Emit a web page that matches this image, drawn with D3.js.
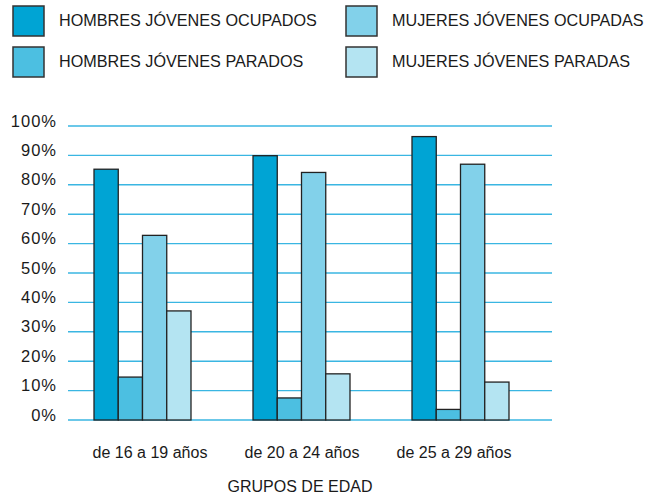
<!DOCTYPE html>
<html>
<head>
<meta charset="utf-8">
<script src="https://cdn.jsdelivr.net/npm/d3@7"></script>
<style>
  body { margin: 0; background: #fff; }
  text { font-family: "Liberation Sans", Arial, sans-serif; fill: #1a1a1a; }
</style>
</head>
<body>
<svg id="chart" width="660" height="496"></svg>
<script>
// age groups
const groups = ['de 16 a 19 años', 'de 20 a 24 años', 'de 25 a 29 años'];
// series, in bar order
const seriesNames = [
  'HOMBRES JÓVENES OCUPADOS',
  'HOMBRES JÓVENES PARADOS',
  'MUJERES JÓVENES OCUPADAS',
  'MUJERES JÓVENES PARADAS'
];
const hombresOcupados = [85.3, 89.9, 96.4];
const hombresParados = [14.6, 7.5, 3.6];
const mujeresOcupadas = [62.8, 84.2, 87.0];
const mujeresParadas = [37.1, 15.7, 12.9];
const yTicks = [0, 10, 20, 30, 40, 50, 60, 70, 80, 90, 100];

const colors = ['#00a4d4', '#4cbfe1', '#82d1ea', '#b4e4f2'];
const allSeries = [hombresOcupados, hombresParados, mujeresOcupadas, mujeresParadas];

const svg = d3.select('#chart');

// scales
const y = d3.scaleLinear().domain([0, 100]).range([420, 126]);
const x = d3.scaleBand().domain(groups).range([63, 540])
  .paddingInner(0.39).paddingOuter(0.195);
const xSub = d3.scaleBand().domain(d3.range(seriesNames.length)).range([0, x.bandwidth()]);
// labels sit a bit closer together than the bar groups
const xLabel = d3.scaleBand().domain(groups).range([74, 530]);

// gridlines
svg.append('g')
  .selectAll('line')
  .data(yTicks)
  .join('line')
  .attr('x1', 68)
  .attr('x2', 552)
  .attr('y1', d => y(d))
  .attr('y2', d => y(d))
  .attr('stroke', '#3ab6e2')
  .attr('stroke-width', 1.4);

// y axis labels (baseline sits on the gridline)
svg.append('g')
  .selectAll('text')
  .data(yTicks)
  .join('text')
  .attr('x', 57)
  .attr('y', d => y(d) + 0.5)
  .attr('text-anchor', 'end')
  .style('font-size', '16.5px')
  .style('letter-spacing', '1px')
  .text(d => d + '%');

// bars
const rows = groups.map((g, i) => ({ group: g, values: allSeries.map(s => s[i]) }));
svg.append('g')
  .selectAll('g')
  .data(rows)
  .join('g')
  .attr('transform', d => `translate(${x(d.group)},0)`)
  .selectAll('rect')
  .data(d => d.values.map((v, k) => ({ k, v })))
  .join('rect')
  .attr('x', d => xSub(d.k))
  .attr('y', d => y(d.v))
  .attr('width', xSub.bandwidth())
  .attr('height', d => y(0) - y(d.v))
  .attr('fill', d => colors[d.k])
  .attr('stroke', '#222')
  .attr('stroke-width', 1.3);

// x labels
svg.append('g')
  .selectAll('text')
  .data(groups)
  .join('text')
  .attr('x', d => xLabel(d) + xLabel.bandwidth() / 2)
  .attr('y', 458)
  .attr('text-anchor', 'middle')
  .style('font-size', '16px')
  .text(d => d);

svg.append('text')
  .attr('x', 300)
  .attr('y', 492)
  .attr('text-anchor', 'middle')
  .style('font-size', '16px')
  .text('GRUPOS DE EDAD');

// legend
const legend = svg.append('g')
  .selectAll('g')
  .data(seriesNames)
  .join('g')
  .attr('transform', (d, i) => `translate(${i < 2 ? 13 : 346},${i % 2 === 0 ? 6 : 47})`);

legend.append('rect')
  .attr('width', 31)
  .attr('height', 30)
  .attr('fill', (d, i) => colors[i])
  .attr('stroke', '#333')
  .attr('stroke-width', 1.5);

legend.append('text')
  .attr('x', 46)
  .attr('y', 20)
  .style('font-size', '16.2px')
  .text(d => d);
</script>
</body>
</html>
